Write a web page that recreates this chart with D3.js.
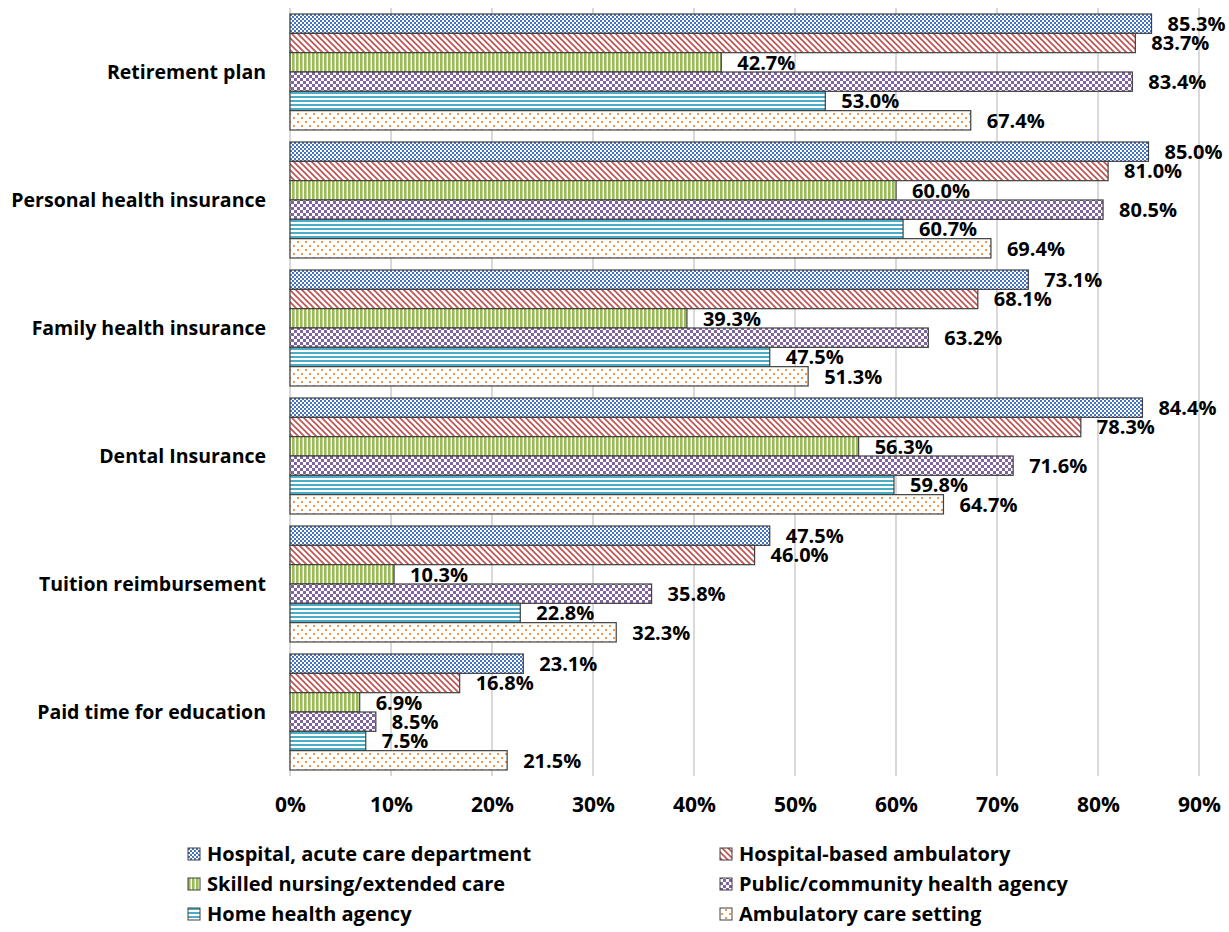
<!DOCTYPE html>
<html><head><meta charset="utf-8">
<script src="https://cdn.jsdelivr.net/npm/d3@7"></script>
<style>
body{margin:0;background:#fff;}
text{font-family:"Open Sans",sans-serif;font-weight:bold;fill:#000;}
</style></head>
<body><svg id="c" width="1229" height="932"></svg>
<script>
const categories = ["Retirement plan","Personal health insurance","Family health insurance","Dental Insurance","Tuition reimbursement","Paid time for education"];
const seriesNames = ["Hospital, acute care department","Hospital-based ambulatory","Skilled nursing/extended care","Public/community health agency","Home health agency","Ambulatory care setting"];
const acuteCare = [85.3,85.0,73.1,84.4,47.5,23.1];
const hospitalAmbulatory = [83.7,81.0,68.1,78.3,46.0,16.8];
const skilledNursing = [42.7,60.0,39.3,56.3,10.3,6.9];
const publicHealth = [83.4,80.5,63.2,71.6,35.8,8.5];
const homeHealth = [53.0,60.7,47.5,59.8,22.8,7.5];
const ambulatoryCare = [67.4,69.4,51.3,64.7,32.3,21.5];
const xTicks = [0,10,20,30,40,50,60,70,80,90];

const seriesValues = [acuteCare,hospitalAmbulatory,skilledNursing,publicHealth,homeHealth,ambulatoryCare];
const svg = d3.select("#c");
const defs = svg.append("defs");

function pat(id,w,h){return defs.append("pattern").attr("id",id).attr("patternUnits","userSpaceOnUse").attr("width",w).attr("height",h);}
let p;
p = pat("p0",4,4); p.append("rect").attr("width",4).attr("height",4).attr("fill","#fff");
p.append("rect").attr("width",2).attr("height",2).attr("fill","#4472C4");
p.append("rect").attr("x",2).attr("y",2).attr("width",2).attr("height",2).attr("fill","#4472C4");
p = pat("p1",6,6); p.append("rect").attr("width",6).attr("height",6).attr("fill","#fff");
p.append("path").attr("d","M-1.5,-1.5L7.5,7.5M-1.5,4.5L1.5,7.5M4.5,-1.5L7.5,1.5").attr("stroke","#C0504D").attr("stroke-width",1.6);
p = pat("p2",4,4); p.append("rect").attr("width",4).attr("height",4).attr("fill","#fff");
p.append("rect").attr("width",2.6).attr("height",4).attr("fill","#9BBB59");
p = pat("p3",6,6); p.append("rect").attr("width",6).attr("height",6).attr("fill","#fff");
p.append("rect").attr("width",3).attr("height",3).attr("fill","#8064A2");
p.append("rect").attr("x",3).attr("y",3).attr("width",3).attr("height",3).attr("fill","#8064A2");
p = pat("p4",4,4); p.append("rect").attr("width",4).attr("height",4).attr("fill","#fff");
p.append("rect").attr("width",4).attr("height",2).attr("fill","#4BACC6");
p = pat("p5",8,8); p.append("rect").attr("width",8).attr("height",8).attr("fill","#fff");
p.append("rect").attr("x",1).attr("y",1).attr("width",2).attr("height",2).attr("fill","#F79646");
p.append("rect").attr("x",5).attr("y",5).attr("width",2).attr("height",2).attr("fill","#F79646");

const x = d3.scaleLinear().domain([0,90]).range([290,1199]);
const y = d3.scaleBand().domain(categories).range([8,776]).paddingInner(0.094).paddingOuter(0.047);
const ys = d3.scaleBand().domain(d3.range(6)).range([0,y.bandwidth()]);

svg.append("g").selectAll("line").data(xTicks).join("line")
  .attr("x1",d=>x(d)).attr("x2",d=>x(d)).attr("y1",8).attr("y2",776)
  .attr("stroke","#D9D9D9").attr("stroke-width",2);

const xAxis = d3.axisBottom(x).tickValues(xTicks).tickFormat(d=>d+"%").tickSize(0).tickPadding(0);
const ax = svg.append("g").attr("transform","translate(0,776)").call(xAxis);
ax.select(".domain").remove();
ax.selectAll("text").attr("dy",null).attr("y",36).style("font-size","21px").style("font-family","Open Sans");

const yAxis = d3.axisLeft(y).tickSize(0).tickPadding(0);
const ay = svg.append("g").attr("transform","translate(266,0)").call(yAxis);
ay.select(".domain").remove();
ay.selectAll("text").style("font-size","19.5px").style("font-family","Open Sans").attr("dy","0.35em");

const data = [];
categories.forEach((c,i)=>seriesValues.forEach((s,j)=>data.push({c,j,v:s[i]})));
const g = svg.append("g");
g.selectAll("rect").data(data).join("rect")
  .attr("x",x(0)).attr("y",d=>y(d.c)+ys(d.j)).attr("width",d=>x(d.v)-x(0)).attr("height",ys.bandwidth())
  .attr("fill",d=>`url(#p${d.j})`).attr("stroke","#404040").attr("stroke-width",1.2);
g.selectAll("text").data(data).join("text")
  .attr("x",d=>x(d.v)+16).attr("y",d=>y(d.c)+ys(d.j)+ys.bandwidth()/2).attr("dy","0.37em")
  .style("font-size","20px").text(d=>d.v.toFixed(1)+"%");

const leg = svg.append("g");
const lx = [188,720], ly = [854,884,914];
seriesNames.forEach((n,i)=>{
  const gx = lx[i%2], gy = ly[Math.floor(i/2)];
  leg.append("rect").attr("x",gx).attr("y",gy-6).attr("width",12).attr("height",12)
    .attr("fill",`url(#p${i})`).attr("stroke","#404040").attr("stroke-width",1);
  leg.append("text").attr("x",gx+19).attr("y",gy).attr("dy","0.36em").style("font-size","20px").text(n);
});
</script></body></html>
